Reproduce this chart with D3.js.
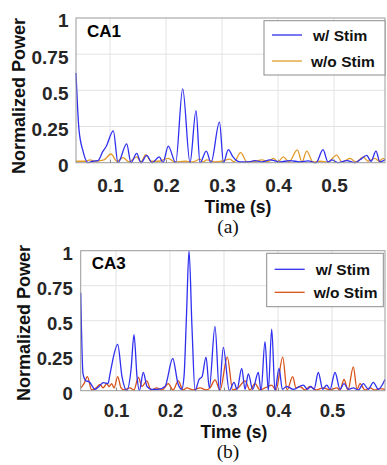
<!DOCTYPE html>
<html>
<head>
<meta charset="utf-8">
<script src="https://cdn.jsdelivr.net/npm/d3@7"></script>
<style>
  body { margin: 0; background: #fff; }
  svg { display: block; }
  text { font-family: "Liberation Sans", Arial, sans-serif; }
</style>
</head>
<body>
<script>
// tick values
const xTicks = [0.1, 0.2, 0.3, 0.4, 0.5];
const yTicks = [0, 0.25, 0.5, 0.75, 1];
const yTickLabels = ["0", "0.25", "0.5", "0.75", "1"];
const seriesNames = ["w/ Stim", "w/o Stim"];

// (a) CA1, w/ Stim
const ca1StimT = [0.0393, 0.0446, 0.0518, 0.0607, 0.0696, 0.0786, 0.0875, 0.0929, 0.1059, 0.1143,
  0.1298, 0.1375, 0.1477, 0.1554, 0.1655, 0.175, 0.188, 0.1946, 0.2041, 0.2173,
  0.2298, 0.2429, 0.2536, 0.2607, 0.272, 0.2804, 0.2955, 0.3027, 0.3113, 0.3196,
  0.3321, 0.3464, 0.3589, 0.3714, 0.3857, 0.4036, 0.4214, 0.4393, 0.4536, 0.4679,
  0.4804, 0.4893, 0.4964, 0.5071, 0.5227, 0.5375, 0.5464, 0.5584, 0.5661, 0.575,
  0.5821, 0.5911];
const ca1StimV = [0.62, 0.23, 0.08, 0.0, 0.01, 0.015, 0.08, 0.11, 0.22, 0.0,
  0.13, 0.0, 0.065, 0.0, 0.05, 0.0, 0.04, 0.0, 0.115, 0.0,
  0.51, 0.0, 0.36, 0.0, 0.08, 0.0, 0.28, 0.0, 0.09, 0.04,
  0.005, 0.005, 0.015, 0.005, 0.02, 0.005, 0.015, 0.005, 0.012, 0.0,
  0.09, 0.005, 0.02, 0.0, 0.015, 0.0, 0.02, 0.05, 0.01, 0.08,
  0.005, 0.02];

// (a) CA1, w/o Stim
const ca1NoStimT = [0.0393, 0.0571, 0.0643, 0.0732, 0.0893, 0.1018, 0.1125, 0.1232, 0.1339, 0.1477,
  0.1554, 0.1638, 0.1732, 0.1857, 0.2041, 0.2161, 0.2339, 0.2482, 0.2607, 0.2661,
  0.2727, 0.2875, 0.3, 0.3143, 0.3214, 0.3334, 0.3446, 0.3589, 0.3714, 0.3821,
  0.3916, 0.4, 0.4095, 0.4196, 0.4345, 0.4429, 0.4513, 0.4625, 0.475, 0.4893,
  0.5048, 0.5143, 0.5286, 0.5393, 0.5523, 0.5607, 0.5732, 0.5804, 0.588, 0.5911];
const ca1NoStimV = [0.01, 0.01, 0.02, 0.01, 0.02, 0.06, 0.01, 0.035, 0.005, 0.04,
  0.005, 0.055, 0.01, 0.01, 0.03, 0.005, 0.01, 0.005, 0.025, 0.005,
  0.02, 0.005, 0.01, 0.025, 0.005, 0.07, 0.005, 0.01, 0.02, 0.005,
  0.03, 0.005, 0.04, 0.005, 0.088, 0.005, 0.08, 0.005, 0.01, 0.005,
  0.053, 0.005, 0.03, 0.005, 0.04, 0.01, 0.03, 0.01, 0.03, 0.02];

// (b) CA3, w/ Stim
const ca3StimT = [0.0346, 0.0389, 0.0444, 0.05, 0.0611, 0.0685, 0.0765, 0.0852, 0.0889, 0.1031,
  0.1111, 0.1198, 0.1278, 0.1333, 0.1389, 0.1431, 0.1506, 0.1574, 0.1661, 0.1778,
  0.1907, 0.205, 0.2148, 0.2217, 0.2259, 0.2306, 0.2352, 0.2407, 0.2463, 0.2537,
  0.2593, 0.2667, 0.2728, 0.2833, 0.2913, 0.2987, 0.3098, 0.3185, 0.3241, 0.3328,
  0.3389, 0.345, 0.3531, 0.3635, 0.3685, 0.3759, 0.382, 0.3883, 0.3944, 0.4019,
  0.408, 0.4161, 0.4283, 0.4469, 0.4543, 0.4606, 0.4667, 0.4746, 0.4828, 0.4902,
  0.4963, 0.5056, 0.5148, 0.5222, 0.5302, 0.5394, 0.5487, 0.558, 0.5672, 0.5765,
  0.5857, 0.5981];
const ca3StimV = [0.70, 0.12, 0.07, 0.065, 0.01, 0.03, 0.057, 0.05, 0.12, 0.33,
  0.1, 0.0, 0.15, 0.40, 0.1, 0.0, 0.13, 0.03, 0.01, 0.01,
  0.03, 0.23, 0.05, 0.01, 0.1, 0.55, 1.0, 0.45, 0.0, 0.08,
  0.1, 0.24, 0.02, 0.46, 0.0, 0.31, 0.0, 0.06, 0.01, 0.16,
  0.01, 0.12, 0.01, 0.13, 0.0, 0.35, 0.0, 0.44, 0.0, 0.16,
  0.01, 0.03, 0.01, 0.04, 0.01, 0.03, 0.01, 0.13, 0.01, 0.04,
  0.01, 0.13, 0.01, 0.05, 0.01, 0.02, 0.005, 0.05, 0.01, 0.06,
  0.01, 0.08];

// (b) CA3, w/o Stim
const ca3NoStimT = [0.0346, 0.0407, 0.0469, 0.055, 0.063, 0.0704, 0.0759, 0.0828, 0.087, 0.092,
  0.0963, 0.1031, 0.1093, 0.1148, 0.1259, 0.1333, 0.1413, 0.1481, 0.1569, 0.1648,
  0.1754, 0.1852, 0.1969, 0.2056, 0.2154, 0.2241, 0.2309, 0.2426, 0.2556, 0.2667,
  0.2741, 0.2833, 0.2926, 0.3061, 0.3161, 0.3259, 0.3389, 0.3481, 0.3574, 0.3667,
  0.3759, 0.3883, 0.3963, 0.4087, 0.4167, 0.4272, 0.4333, 0.4407, 0.45, 0.4593,
  0.4704, 0.4839, 0.4963, 0.5087, 0.5148, 0.5222, 0.5296, 0.5394, 0.5463, 0.5519,
  0.5611, 0.5704, 0.5796, 0.5889, 0.5981];
const ca3NoStimV = [0.02, 0.05, 0.1, 0.005, 0.02, 0.045, 0.02, 0.05, 0.03, 0.05,
  0.02, 0.1, 0.02, 0.005, 0.02, 0.005, 0.095, 0.03, 0.07, 0.005,
  0.02, 0.005, 0.05, 0.005, 0.07, 0.005, 0.02, 0.005, 0.02, 0.005,
  0.02, 0.077, 0.005, 0.24, 0.005, 0.02, 0.07, 0.005, 0.05, 0.005,
  0.02, 0.04, 0.005, 0.24, 0.005, 0.1, 0.02, 0.03, 0.005, 0.03,
  0.005, 0.02, 0.005, 0.02, 0.005, 0.08, 0.005, 0.17, 0.01, 0.05,
  0.005, 0.02, 0.005, 0.015, 0.01];

const width = 387;
const height = 465;

const svg = d3.select("body")
  .append("svg")
  .attr("width", width)
  .attr("height", height)
  .attr("viewBox", [0, 0, width, height]);

function drawPanel(p) {
  const g = svg.append("g");
  const x = d3.scaleLinear().domain(p.xDomain).range([p.left, p.right]);
  const y = d3.scaleLinear().domain([0, 1]).range([p.bottom, p.top]);

  // grid
  g.append("g")
    .selectAll("line")
    .data(xTicks)
    .join("line")
    .attr("x1", d => x(d)).attr("x2", d => x(d))
    .attr("y1", p.top).attr("y2", p.bottom)
    .attr("stroke", "#e3e3e3")
    .attr("stroke-width", 1);
  g.append("g")
    .selectAll("line")
    .data(yTicks.slice(1, -1))
    .join("line")
    .attr("x1", p.left).attr("x2", p.right)
    .attr("y1", d => y(d)).attr("y2", d => y(d))
    .attr("stroke", "#e3e3e3")
    .attr("stroke-width", 1);

  // lines
  const line = d3.line()
    .x(d => x(d[0]))
    .y(d => y(d[1]))
    .curve(d3.curveMonotoneX);

  const series = [
    { t: p.stimT, v: p.stimV, color: "#2f2ff0" },
    { t: p.noT, v: p.noV, color: p.orange },
  ];
  // orange drawn under blue
  [series[1], series[0]].forEach(s => {
    g.append("path")
      .attr("d", line(s.t.map((t, i) => [t, s.v[i]])))
      .attr("fill", "none")
      .attr("stroke", s.color)
      .attr("stroke-width", 1.3);
  });

  // box
  g.append("rect")
    .attr("x", p.left).attr("y", p.top)
    .attr("width", p.right - p.left)
    .attr("height", p.bottom - p.top)
    .attr("fill", "none")
    .attr("stroke", "#9a9a9a")
    .attr("stroke-width", 1);

  // x axis
  const xAxis = d3.axisBottom(x).tickValues(xTicks).tickSizeInner(-3).tickSizeOuter(0)
    .tickFormat(d3.format(".1f"));
  const xa = g.append("g")
    .attr("transform", `translate(0,${p.bottom})`)
    .call(xAxis);
  xa.select(".domain").remove();
  xa.selectAll(".tick line").attr("stroke", "#8a8a8a");
  xa.selectAll(".tick text")
    .attr("y", p.xLabelY - p.bottom)
    .attr("dy", null)
    .attr("fill", "#262626")
    .style("font-size", p.tickSize + "px")
    .style("font-weight", "bold")
    .style("font-family", "'Liberation Sans', Arial, sans-serif");

  // y axis
  const yAxis = d3.axisLeft(y).tickValues(yTicks).tickSize(0)
    .tickFormat((d, i) => yTickLabels[i]);
  const ya = g.append("g")
    .attr("transform", `translate(${p.left},0)`)
    .call(yAxis);
  ya.select(".domain").remove();
  ya.selectAll(".tick text")
    .attr("x", -p.yLabelGap)
    .attr("dy", "0.36em")
    .attr("transform", "translate(0,2)")
    .attr("fill", "#262626")
    .style("font-size", p.tickSize + "px")
    .style("font-weight", "bold")
    .style("font-family", "'Liberation Sans', Arial, sans-serif");

  // axis labels
  g.append("text")
    .attr("transform", `translate(${p.yTitleX},${p.yTitleY}) rotate(-90)`)
    .attr("text-anchor", "middle")
    .style("font-size", "18px")
    .style("font-weight", "bold")
    .attr("fill", "#111")
    .text("Normalized Power");
  g.append("text")
    .attr("x", p.xTitleX).attr("y", p.xTitleY)
    .attr("text-anchor", "middle")
    .style("font-size", "17.5px")
    .style("font-weight", "bold")
    .attr("fill", "#111")
    .text("Time (s)");

  // panel name
  g.append("text")
    .attr("x", p.left + 11).attr("y", p.top + 18.5)
    .style("font-size", "17px")
    .style("font-weight", "bold")
    .attr("fill", "#000")
    .text(p.name);

  // caption
  g.append("text")
    .attr("x", p.captionX).attr("y", p.captionY)
    .attr("text-anchor", "middle")
    .style("font-family", "'Liberation Serif', 'Times New Roman', serif")
    .style("font-size", "19.5px")
    .attr("fill", "#111")
    .text(p.caption);

  // legend
  const lg = g.append("g");
  lg.append("rect")
    .attr("x", p.legend.x).attr("y", p.legend.y)
    .attr("width", p.legend.w).attr("height", p.legend.h)
    .attr("fill", "#fff")
    .attr("stroke", "#8c8c8c")
    .attr("stroke-width", 1);
  series.forEach((s, i) => {
    const ly = p.legend.y + p.legend.rows[i];
    lg.append("line")
      .attr("x1", p.legend.x + 8).attr("x2", p.legend.x + 38)
      .attr("y1", ly).attr("y2", ly)
      .attr("stroke", s.color)
      .attr("stroke-width", 1.3);
    lg.append("text")
      .attr("x", p.legend.x + 47 + (i === 0 ? 2 : 0))
      .attr("y", ly + 5.5)
      .style("font-size", "15.5px")
      .style("font-weight", "bold")
      .attr("fill", "#111")
      .text(seriesNames[i]);
  });
}

drawPanel({
  name: "CA1", caption: "(a)",
  left: 76, right: 385, top: 18, bottom: 162.7,
  xDomain: [0.0393, 0.5911],
  stimT: ca1StimT, stimV: ca1StimV, noT: ca1NoStimT, noV: ca1NoStimV,
  orange: "#e39b2c",
  tickSize: 19, xLabelY: 192.5, yLabelGap: 7.5,
  yTitleX: 25, yTitleY: 96, xTitleX: 238, xTitleY: 212.5,
  captionX: 228, captionY: 233,
  legend: { x: 264, y: 20.7, w: 121, h: 54.3, rows: [14.3, 40.3] },
});

drawPanel({
  name: "CA3", caption: "(b)",
  left: 80.7, right: 385, top: 250.7, bottom: 390.7,
  xDomain: [0.0346, 0.5981],
  stimT: ca3StimT, stimV: ca3StimV, noT: ca3NoStimT, noV: ca3NoStimV,
  orange: "#d95319",
  tickSize: 18.5, xLabelY: 417, yLabelGap: 8,
  yTitleX: 30, yTitleY: 323, xTitleX: 234, xTitleY: 437.5,
  captionX: 228, captionY: 458,
  legend: { x: 266.7, y: 253.3, w: 116.6, h: 53.4, rows: [16, 39] },
});
</script>
</body>
</html>
